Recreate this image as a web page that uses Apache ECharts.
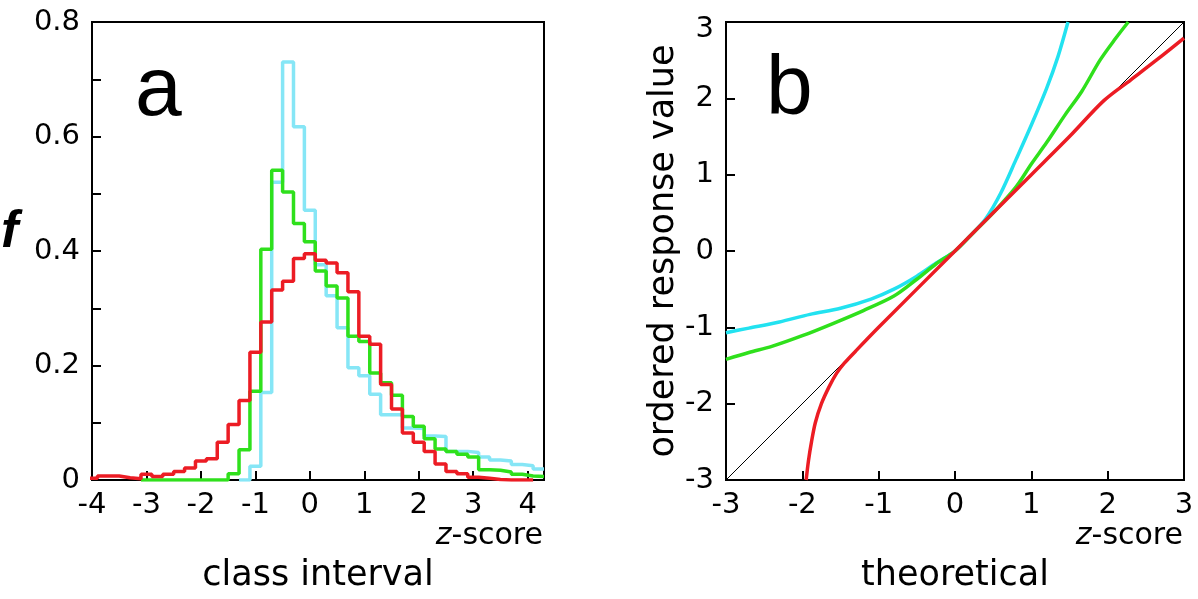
<!DOCTYPE html>
<html>
<head>
<meta charset="utf-8">
<script src="https://cdn.jsdelivr.net/npm/echarts@6/dist/echarts.min.js"></script>
<style>
html,body{margin:0;padding:0;background:#fff;}
#chart{width:1198px;height:599px;}
</style>
</head>
<body>
<div id="chart"></div>
<script>
// ---------- Panel a: histogram (class interval, z-score) ----------
const binCenters = [-4.0,-3.8,-3.6,-3.4,-3.2,-3.0,-2.8,-2.6,-2.4,-2.2,-2.0,-1.8,-1.6,-1.4,-1.2,-1.0,-0.8,-0.6,-0.4,-0.2,
  0.0,0.2,0.4,0.6,0.8,1.0,1.2,1.4,1.6,1.8,2.0,2.2,2.4,2.6,2.8,3.0,3.2,3.4,3.6,3.8,4.0,4.2];
const binWidth = 0.2;

const redStart = -4.0;
const redFreq = [0.003,0.007,0.007,0.004,0.002,0.010,0.006,0.010,0.015,0.021,0.033,0.037,0.066,0.097,0.139,0.223,0.276,0.332,0.347,0.387,
  0.395,0.384,0.379,0.362,0.329,0.251,0.237,0.167,0.124,0.082,0.066,0.050,0.028,0.015,0.011,0.005,0.003,0.001,0,0,0];

const greenStart = -3.0;
const greenFreq = [0,0,0,0,0,0,0,0,0.011,0.053,0.155,0.403,0.541,0.503,0.448,
  0.416,0.365,0.339,0.318,0.251,0.242,0.187,0.170,0.148,0.111,0.094,0.072,0.054,0.050,0.045,0.040,0.018,0.017,0.014,0.010,0.007,0.006];

const cyanStart = -1.2;
const cyanFreq = [0,0.024,0.153,0.520,0.730,0.617,
  0.471,0.376,0.322,0.266,0.196,0.182,0.150,0.114,0.114,0.091,0.090,0.077,0.076,0.050,0.050,0.048,0.040,0.035,0.033,0.027,0.025,0.019];

const histXTicks = [-4,-3,-2,-1,0,1,2,3,4];
const histYTickLabels = ['0','0.2','0.4','0.6','0.8'];

// ---------- Panel b: Q-Q plot (theoretical vs ordered response value) ----------
const refLine = [[-3,-3],[3,3]];

const cyanQQx = [-3.0,-2.7,-2.3,-1.9,-1.5,-1.1,-0.8,-0.5,-0.25,0.0,0.2,0.4,0.6,0.8,1.0,1.2,1.35,1.48];
const cyanQQy = [-1.07,-1.01,-0.93,-0.83,-0.75,-0.63,-0.50,-0.33,-0.16,0.0,0.20,0.42,0.76,1.20,1.65,2.13,2.55,3.0];

const greenQQx = [-3.0,-2.7,-2.4,-2.0,-1.6,-1.2,-0.8,-0.5,-0.25,0.0,0.25,0.5,0.8,1.0,1.2,1.44,1.66,1.9,2.1,2.27];
const greenQQy = [-1.42,-1.33,-1.25,-1.11,-0.95,-0.78,-0.59,-0.37,-0.17,0.0,0.25,0.50,0.84,1.14,1.42,1.78,2.09,2.50,2.78,3.0];

const redQQx = [-1.95,-1.92,-1.88,-1.83,-1.75,-1.65,-1.55,-1.45,-1.3,-1.0,0.0,1.0,1.5,1.95,2.3,2.65,3.0];
const redQQy = [-3.0,-2.75,-2.5,-2.25,-2.0,-1.78,-1.60,-1.47,-1.31,-1.0,0.0,1.0,1.5,1.97,2.24,2.51,2.79];

const qqTicks = [-3,-2,-1,0,1,2,3];

// ---------- helpers ----------
function stepSeriesData(start, values) {
  let idx = binCenters.findIndex(c => Math.abs(c - start) < 1e-9);
  const pts = [];
  for (let i = 0; i < values.length; i++) {
    pts.push([binCenters[idx + i] - binWidth / 2, values[i]]);
  }
  pts.push([binCenters[idx + values.length - 1] + binWidth / 2, values[values.length - 1]]);
  return pts;
}
function zip(xs, ys) { return xs.map((x, i) => [x, ys[i]]); }

const FONT = 'DejaVu Sans';
const RED = '#ec1c24', GREEN = '#2fe01c', CYAN_A = '#86e6f6', CYAN_B = '#22e2f0';
const NAME_SIZE = 35;

function tickLabelStyle(extra) { return Object.assign({color: '#000', fontFamily: FONT, fontSize: 29}, extra); }
function tickStyle() { return {show: true, inside: true, length: 9, lineStyle: {color: '#000', width: 2}}; }
function axisLineStyle() { return {show: true, onZero: false, lineStyle: {color: '#000', width: 2}}; }

const chart = echarts.init(document.getElementById('chart'), null, {renderer: 'canvas'});

const option = {
  animation: false,
  backgroundColor: '#fff',
  grid: [
    {left: 92, top: 22, width: 452, height: 458, show: true, borderColor: '#000', borderWidth: 2, backgroundColor: 'transparent', containLabel: false},
    {left: 726, top: 22, width: 458, height: 458, show: true, borderColor: '#000', borderWidth: 2, backgroundColor: 'transparent', containLabel: false}
  ],
  xAxis: [
    {
      gridIndex: 0, type: 'value', min: histXTicks[0], max: 4.3, interval: 1, position: 'bottom',
      axisLine: axisLineStyle(), splitLine: {show: false}, axisTick: tickStyle(),
      axisLabel: tickLabelStyle({margin: 11, formatter: v => histXTicks.some(t => Math.abs(t - v) < 1e-6) ? String(Math.round(v)) : ''}),
      name: 'class interval', nameLocation: 'middle', nameGap: 78,
      nameTextStyle: {color: '#000', fontFamily: FONT, fontSize: NAME_SIZE}
    },
    {
      gridIndex: 1, type: 'value', min: qqTicks[0], max: qqTicks[qqTicks.length - 1], interval: 1, position: 'bottom',
      axisLine: axisLineStyle(), splitLine: {show: false}, axisTick: tickStyle(),
      axisLabel: tickLabelStyle({margin: 11, formatter: v => String(Math.round(v))}),
      name: 'theoretical', nameLocation: 'middle', nameGap: 78,
      nameTextStyle: {color: '#000', fontFamily: FONT, fontSize: NAME_SIZE}
    }
  ],
  yAxis: [
    {
      gridIndex: 0, type: 'value', min: 0, max: 0.8, interval: 0.1, position: 'left',
      axisLine: axisLineStyle(), splitLine: {show: false}, axisTick: tickStyle(),
      axisLabel: tickLabelStyle({margin: 12, formatter: v => {
        const i = Math.round(v * 10);
        if (i % 2 !== 0) return '';
        return histYTickLabels[i / 2];
      }})
    },
    {
      gridIndex: 1, type: 'value', min: qqTicks[0], max: qqTicks[qqTicks.length - 1], interval: 1, position: 'left',
      axisLine: axisLineStyle(), splitLine: {show: false}, axisTick: tickStyle(),
      axisLabel: tickLabelStyle({margin: 12,
        formatter: v => Math.round(v) === qqTicks[qqTicks.length - 1] ? '{top|' + Math.round(v) + '}' : String(Math.round(v)),
        rich: {top: {fontFamily: FONT, fontSize: 29, color: '#000', padding: [14, 0, 0, 0]}}
      }),
      name: 'ordered response value', nameLocation: 'middle', nameGap: 41, nameRotate: 90,
      nameTextStyle: {color: '#000', fontFamily: FONT, fontSize: NAME_SIZE}
    }
  ],
  series: [
    {type: 'line', xAxisIndex: 0, yAxisIndex: 0, step: 'end', symbol: 'none', data: stepSeriesData(cyanStart, cyanFreq),
      lineStyle: {color: CYAN_A, width: 3.5}, z: 2},
    {type: 'line', xAxisIndex: 0, yAxisIndex: 0, step: 'end', symbol: 'none', data: stepSeriesData(greenStart, greenFreq),
      lineStyle: {color: GREEN, width: 3.5}, z: 3},
    {type: 'line', xAxisIndex: 0, yAxisIndex: 0, step: 'end', symbol: 'none', data: stepSeriesData(redStart, redFreq),
      lineStyle: {color: RED, width: 3.5}, z: 4},

    {type: 'line', xAxisIndex: 1, yAxisIndex: 1, symbol: 'none', data: refLine,
      lineStyle: {color: '#000', width: 1}, z: 2},
    {type: 'line', xAxisIndex: 1, yAxisIndex: 1, symbol: 'none', smooth: 0.3, data: zip(cyanQQx, cyanQQy),
      lineStyle: {color: CYAN_B, width: 3.5}, z: 3},
    {type: 'line', xAxisIndex: 1, yAxisIndex: 1, symbol: 'none', smooth: 0.3, data: zip(greenQQx, greenQQy),
      lineStyle: {color: GREEN, width: 3.5}, z: 4},
    {type: 'line', xAxisIndex: 1, yAxisIndex: 1, symbol: 'none', smooth: 0.3, data: zip(redQQx, redQQy),
      lineStyle: {color: RED, width: 3.5}, z: 5}
  ],
  graphic: [
    {type: 'text', x: 135, y: 92, z: 10, style: {text: 'a', fill: '#000', font: '84px "Liberation Sans"', textAlign: 'left', textVerticalAlign: 'middle'}},
    {type: 'text', x: 766, y: 91, z: 10, style: {text: 'b', fill: '#000', font: '84px "Liberation Sans"', textAlign: 'left', textVerticalAlign: 'middle'}},
    {type: 'text', x: 1, y: 233, z: 10, style: {text: 'f', fill: '#000', font: 'italic bold 52px "Liberation Sans"', textAlign: 'left', textVerticalAlign: 'middle'}},
    {type: 'text', x: 543, y: 536, z: 10, style: {
      text: '{i|z}{n|-score}', textAlign: 'right', textVerticalAlign: 'middle',
      rich: {i: {fontStyle: 'italic', fontFamily: FONT, fontSize: 30, fill: '#000'}, n: {fontFamily: FONT, fontSize: 30, fill: '#000'}}
    }},
    {type: 'text', x: 1183, y: 536, z: 10, style: {
      text: '{i|z}{n|-score}', textAlign: 'right', textVerticalAlign: 'middle',
      rich: {i: {fontStyle: 'italic', fontFamily: FONT, fontSize: 30, fill: '#000'}, n: {fontFamily: FONT, fontSize: 30, fill: '#000'}}
    }}
  ]
};
chart.setOption(option);
</script>
</body>
</html>
